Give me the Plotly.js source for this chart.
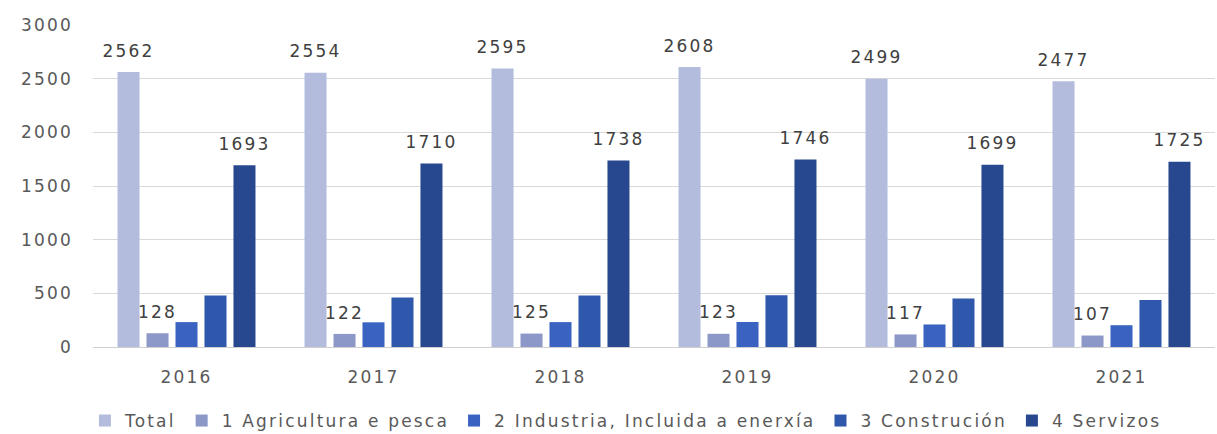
<!DOCTYPE html>
<html>
<head>
<meta charset="utf-8">
<script src="https://cdn.plot.ly/plotly-3.0.1.min.js"></script>
<style>
html,body{margin:0;padding:0;background:#fff;}
#chart{width:1217px;height:434px;}
svg text{letter-spacing:2.2px !important;}
</style>
</head>
<body>
<div id="chart"></div>
<script>
const years = ["2016", "2017", "2018", "2019", "2020", "2021"];
const seriesNames = ["Total", "1 Agricultura e pesca", "2 Industria, Incluida a enerxía", "3 Construción", "4 Servizos"];
const total = [2562, 2554, 2595, 2608, 2499, 2477];
const agricultura = [128, 122, 125, 123, 117, 107];
const industria = [232, 230, 232, 233, 210, 203];
const construcion = [480, 462, 480, 482, 452, 437];
const servizos = [1693, 1710, 1738, 1746, 1699, 1725];
const yTicks = [0, 500, 1000, 1500, 2000, 2500, 3000];

const colors = ["#b3bcdd", "#8c98c8", "#3a62c0", "#2f58ad", "#27488f"];
const showLabels = [true, true, false, false, true];
const values = [total, agricultura, industria, construcion, servizos];
const FONT = "DejaVu Sans, sans-serif";
const FS = 17;

const traces = values.map((v, i) => ({
  type: "bar",
  name: seriesNames[i],
  x: years,
  y: v,
  marker: {color: colors[i]},
  text: showLabels[i] ? v.map(n => "<span style='font-size:" + FS + "px'>" + n + "</span><br> ") : undefined,
  textposition: showLabels[i] ? "outside" : "none",
  constraintext: "none",
  cliponaxis: false,
  textfont: {family: FONT, size: 8, color: "#404040"},
  hoverinfo: "x+y+name"
}));

const layout = {
  width: 1217, height: 434,
  margin: {l: 93, r: 2, t: 25, b: 87},
  paper_bgcolor: "#ffffff", plot_bgcolor: "#ffffff",
  barmode: "group",
  bargap: 0.225,
  bargroupgap: 0.24,
  font: {family: FONT, color: "#595959", size: FS},
  xaxis: {
    type: "category",
    showgrid: false,
    showline: false,
    zeroline: false,
    ticks: "",
    ticklabelstandoff: 18,
    tickfont: {family: FONT, size: FS, color: "#595959"}
  },
  yaxis: {
    range: [0, 3000],
    tickvals: yTicks,
    ticktext: yTicks.map(String),
    showgrid: true,
    gridcolor: "#d9d9d9",
    gridwidth: 1,
    zeroline: true,
    zerolinecolor: "#d0d0d0",
    zerolinewidth: 1,
    showline: false,
    ticks: "",
    ticklabelstandoff: 19,
    tickfont: {family: FONT, size: FS, color: "#595959"}
  },
  showlegend: true,
  legend: {
    orientation: "h",
    xref: "paper",
    x: 0.475, xanchor: "center",
    yref: "container",
    y: 0.03, yanchor: "middle",
    font: {family: FONT, size: FS, color: "#595959"},
    itemwidth: 30,
    traceorder: "normal"
  }
};

Plotly.newPlot("chart", traces, layout, {displayModeBar: false, staticPlot: true});
</script>
</body>
</html>
